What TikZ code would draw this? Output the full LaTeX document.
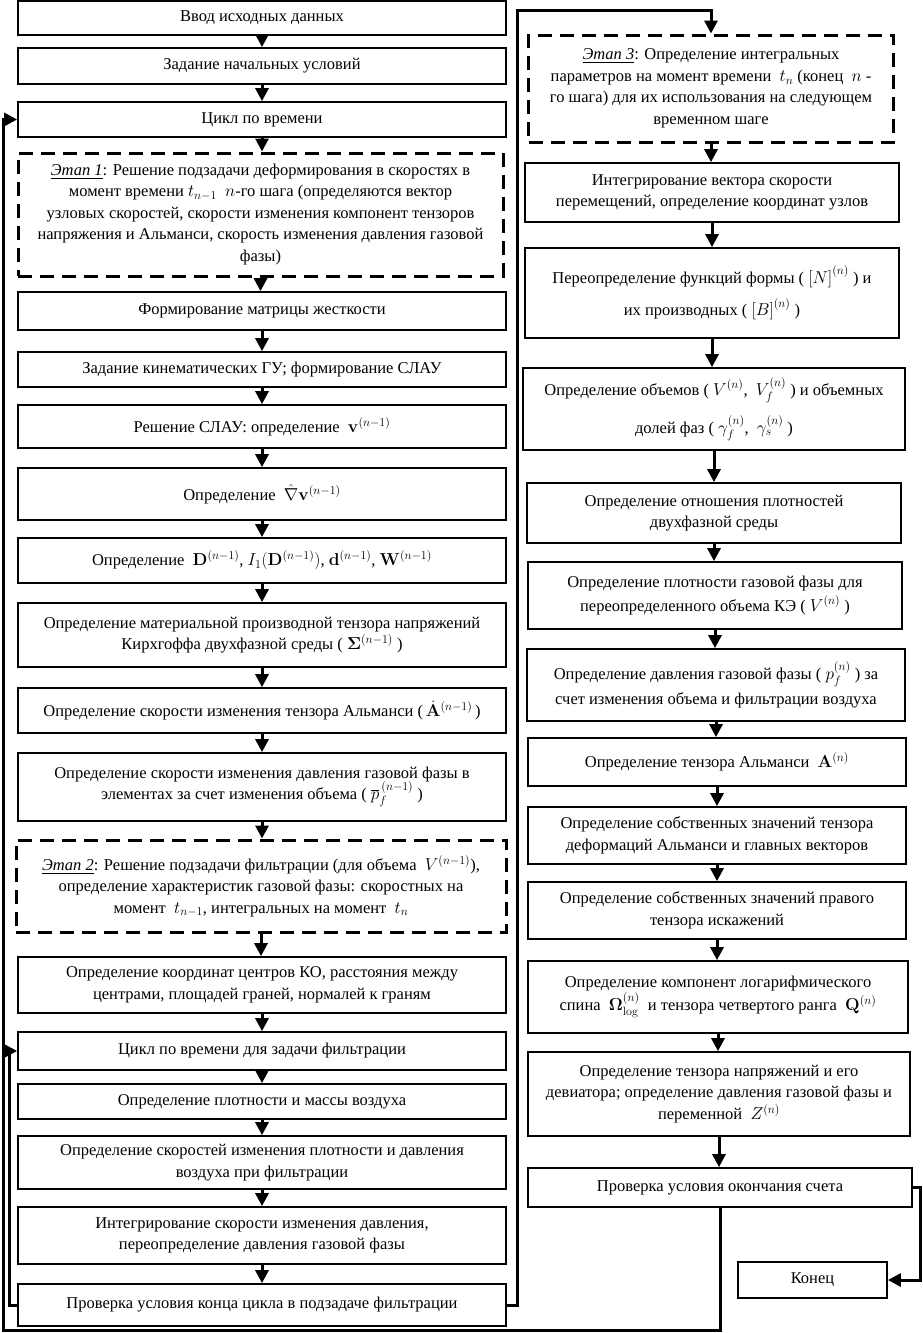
\documentclass[tikz,border=0pt]{standalone}
\usepackage{amsmath}
\usepackage[no-math]{fontspec}
\setmainfont{Liberation Serif}
\usetikzlibrary{arrows.meta}
\newcommand\fsz{\fontsize{16.5}{21.5}\selectfont}
\tikzset{
  box/.style={draw, line width=1.7pt, align=center, inner sep=0pt, font=\fsz},
  dbox/.style={box, dash pattern=on 14pt off 8pt, line width=3pt},
  lbox/.style={box, minimum width=488pt},
  rbox/.style={box, minimum width=374pt},
  arr/.style={line width=3pt, -{Triangle[length=13pt,width=13pt]}},
}
\begin{document}
\begin{tikzpicture}[x=1pt,y=-1pt]
\useasboundingbox (0,0) rectangle (922,1333);
% left column
\node[lbox, minimum height=34pt] (L1) at (262,18) {Ввод исходных данных};
\node[lbox, minimum height=36pt] (L2) at (262,66) {Задание начальных условий};
\node[lbox, minimum height=35pt] (L3) at (262,119.5) {Цикл по времени};
\node[dbox, minimum width=485pt, minimum height=123pt] (L4) at (260.5,214.5) {\underline{\textit{Этап 1}}: Решение подзадачи деформирования в скоростях в\\ момент времени $t_{n-1}$ \ $n$-го шага (определяются вектор\\ узловых скоростей, скорости изменения компонент тензоров\\ напряжения и Альманси, скорость изменения давления газовой\\ фазы)};
\node[lbox, minimum height=38pt] (L5) at (262,311) {Формирование матрицы жесткости};
\node[lbox, minimum height=35pt] (L6) at (262,369.5) {Задание кинематических ГУ; формирование СЛАУ};
\node[lbox, minimum height=43pt] (L7) at (262,426.5) {Решение СЛАУ: определение \ $\mathbf{v}^{(n-1)}$};
\node[lbox, minimum height=52pt] (L8) at (262,494) {Определение \ $\hat{\nabla}\mathbf{v}^{(n-1)}$};
\node[lbox, minimum height=45pt] (L9) at (262,560.5) {Определение \ $\mathbf{D}^{(n-1)}$, $I_1(\mathbf{D}^{(n-1)})$, $\mathbf{d}^{(n-1)}$, $\mathbf{W}^{(n-1)}$};
\node[lbox, minimum height=64pt] (L10) at (262,635) {Определение материальной производной тензора напряжений\\ Кирхгоффа двухфазной среды ( $\mathbf{\Sigma}^{(n-1)}$ )};
\node[lbox, minimum height=45pt] (L11) at (262,710.5) {Определение скорости изменения тензора Альманси (\,$\dot{\mathbf{A}}^{(n-1)}$\,)};
\node[lbox, minimum height=68pt] (L12) at (262,787) {Определение скорости изменения давления газовой фазы в\\ элементах за счет изменения объема ( $\overline{p}_f^{\,(n-1)}$ )};
\node[dbox, minimum width=490pt, minimum height=92pt] (L13) at (261,886) {\underline{\textit{Этап 2}}: Решение подзадачи фильтрации (для объема \ $V^{(n-1)}$),\\ определение характеристик газовой фазы: скоростных на\\ момент \ $t_{n-1}$, интегральных на момент \ $t_n$};
\node[lbox, minimum height=56pt] (L14) at (262,985) {Определение координат центров КО, расстояния между\\ центрами, площадей граней, нормалей к граням};
\node[lbox, minimum height=38pt] (L15) at (262,1051) {Цикл по времени для задачи фильтрации};
\node[lbox, minimum height=35pt] (L16) at (262,1101.5) {Определение плотности и массы воздуха};
\node[lbox, minimum height=53pt] (L17) at (262,1162.5) {Определение скоростей изменения плотности и давления\\ воздуха при фильтрации};
\node[lbox, minimum height=57pt] (L18) at (262,1235.5) {Интегрирование скорости изменения давления,\\ переопределение давления газовой фазы};
\node[lbox, minimum height=42pt] (L19) at (262,1305) {Проверка условия конца цикла в подзадаче фильтрации};
% right column
\node[dbox, minimum width=365pt, minimum height=107pt] (R1) at (711,88.5) {\underline{\textit{Этап 3}}: Определение интегральных\\ параметров на момент времени \ $t_n$ (конец \ $n$ -\\ го шага) для их использования на следующем\\ временном шаге};
\node[rbox, minimum height=59pt] (R2) at (712,192.5) {Интегрирование вектора скорости\\ перемещений, определение координат узлов};
\node[rbox, minimum height=90pt] (R3) at (712,293) {Переопределение функций формы ( $\left[N\right]^{(n)}$ ) и\\[10pt] их производных ( $\left[B\right]^{(n)}$ )};
\node[box, minimum width=382pt, minimum height=82pt] (R4) at (714,409) {Определение объемов ( $V^{(n)}$, \ $V_f^{(n)}$ ) и объемных\\[12pt] долей фаз ( $\gamma_f^{(n)}$, \ $\gamma_s^{(n)}$ )};
\node[rbox, minimum height=60pt] (R5) at (714,513) {Определение отношения плотностей\\ двухфазной среды};
\node[rbox, minimum height=67pt] (R6) at (715,595.5) {Определение плотности газовой фазы для\\[2pt] переопределенного объема КЭ ( $V^{(n)}$ )};
\node[box, minimum width=378pt, minimum height=72pt] (R7) at (716,685) {Определение давления газовой фазы ( $p_f^{(n)}$ ) за\\[4pt] счет изменения объема и фильтрации воздуха};
\node[box, minimum width=378pt, minimum height=48pt] (R8) at (717,762) {Определение тензора Альманси \ $\mathbf{A}^{(n)}$};
\node[box, minimum width=378pt, minimum height=57pt] (R9) at (717,835.5) {Определение собственных значений тензора\\ деформаций Альманси и главных векторов};
\node[box, minimum width=378pt, minimum height=57pt] (R10) at (717,910.5) {Определение собственных значений правого\\ тензора искажений};
\node[box, minimum width=380pt, minimum height=72pt] (R11) at (718,997) {Определение компонент логарифмического\\[2pt] спина \ $\mathbf{\Omega}^{(n)}_{\log}$ \ и тензора четвертого ранга \ $\mathbf{Q}^{(n)}$};
\node[box, minimum width=382pt, minimum height=84pt] (R12) at (719,1094) {Определение тензора напряжений и его\\ девиатора; определение давления газовой фазы и\\ переменной \ $Z^{(n)}$};
\node[box, minimum width=384pt, minimum height=39pt] (R13) at (720,1187.5) {Проверка условия окончания счета};
\node[box, minimum width=149pt, minimum height=36pt] (R14) at (812.5,1280) {Конец};
% straight arrows
\foreach \a/\b in {L1/L2,L2/L3,L3/L4,L4/L5,L5/L6,L6/L7,L7/L8,L8/L9,L9/L10,L10/L11,L11/L12,L12/L13,L13/L14,L14/L15,L15/L16,L16/L17,L17/L18,L18/L19,R1/R2,R2/R3,R3/R4,R4/R5,R5/R6,R6/R7,R7/R8,R8/R9,R9/R10,R10/R11,R11/R12,R12/R13}
  \draw[arr] (\a.south) -- (\a.south |- \b.north);
% loops
\coordinate (bl) at (3,1330);
\coordinate (tp) at (517,10);
\coordinate (er) at (920,1187.5);
\draw[arr] (R13.south) |- (bl) |- (L3.west);
\draw[arr] (L19.west) -- ++(-8,0) |- (L15.west);
\draw[arr] (L19.east) -| (tp) -| (R1.north);
\draw[arr] (R13.east) -- (er) |- (R14.east);
\end{tikzpicture}
\end{document}
